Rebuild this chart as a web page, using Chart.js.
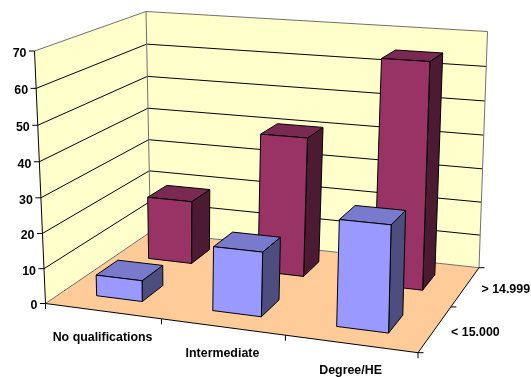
<!DOCTYPE html>
<html lang="en">
  <head>
    <meta charset="UTF-8" />
    <title>Qualifications by income</title>
    <script src="https://cdn.jsdelivr.net/npm/chart.js"></script>
    <style>
      body {
        margin: 0;
        background: #ffffff;
      }
      .chart-box {
        width: 531px;
        height: 377px;
      }
    </style>
  </head>
  <body>
    <div class="chart-box"><canvas id="chartIncome"></canvas></div>

    <script>
      const categories = ["No qualifications", "Intermediate", "Degree/HE"];
      const depthLabels = ["< 15.000", "> 14.999"];
      const lowIncome = [6, 18, 29];
      const highIncome = [19, 41, 65];
      const yMax = 70;
      const yStep = 10;

      // box corners on screen: floor and ceiling, order front-left, front-right, back-right, back-left
      const floorQuad = [[45.5, 303.5], [418, 352.7], [479, 267.7], [150.5, 232]];
      const ceilQuad = [[34.5, 51], [423, 75], [487.5, 31.5], [146, 11.5]];
      const heightBend = 0.042;

      const palette = {
        low: { front: "#9999ff", top: "#7a7acc", side: "#4d4d80" },
        high: { front: "#993366", top: "#7a2952", side: "#4d1a33" },
      };

      // unit square -> quad
      function quadMap(q) {
        const [p0, p1, p2, p3] = q;
        const dx1 = p1[0] - p2[0], dx2 = p3[0] - p2[0], sx = p0[0] - p1[0] + p2[0] - p3[0];
        const dy1 = p1[1] - p2[1], dy2 = p3[1] - p2[1], sy = p0[1] - p1[1] + p2[1] - p3[1];
        const den = dx1 * dy2 - dx2 * dy1;
        const g = (sx * dy2 - dx2 * sy) / den;
        const h = (dx1 * sy - sx * dy1) / den;
        const a = p1[0] - p0[0] + g * p1[0], b = p3[0] - p0[0] + h * p3[0];
        const d = p1[1] - p0[1] + g * p1[1], e = p3[1] - p0[1] + h * p3[1];
        return (u, v) => {
          const w = 1 + g * u + h * v;
          return [(p0[0] + a * u + b * v) / w, (p0[1] + d * u + e * v) / w];
        };
      }
      const floorMap = quadMap(floorQuad);
      const ceilMap = quadMap(ceilQuad);

      // u along categories, t up the value axis, v into the depth
      function project(u, t, v) {
        const f = t / (1 + heightBend * (1 - t));
        const a = floorMap(u, v);
        const b = ceilMap(u, v);
        return [a[0] + (b[0] - a[0]) * f, a[1] + (b[1] - a[1]) * f];
      }

      function poly(ctx, pts, fill, stroke) {
        ctx.beginPath();
        pts.forEach((p, i) => (i ? ctx.lineTo(p[0], p[1]) : ctx.moveTo(p[0], p[1])));
        ctx.closePath();
        if (fill) {
          ctx.fillStyle = fill;
          ctx.fill();
        }
        if (stroke) {
          ctx.strokeStyle = stroke;
          ctx.stroke();
        }
      }

      function seg(ctx, a, b, color) {
        ctx.beginPath();
        ctx.moveTo(a[0], a[1]);
        ctx.lineTo(b[0], b[1]);
        ctx.strokeStyle = color;
        ctx.stroke();
      }

      const box3d = {
        id: "box3d",
        beforeDatasetsDraw(chart) {
          const { ctx, chartArea: area, scales } = chart;
          const toU = (px) => (px - area.left) / (area.right - area.left);
          const toT = (px) => (area.bottom - px) / (area.bottom - area.top);

          ctx.save();
          ctx.lineWidth = 1;

          // walls and floor
          poly(ctx, [project(0, 0, 0), project(0, 0, 1), project(0, 1, 1), project(0, 1, 0)], "#ffffcc");
          poly(ctx, [project(0, 0, 1), project(1, 0, 1), project(1, 1, 1), project(0, 1, 1)], "#ffffcc");
          poly(ctx, [project(0, 0, 0), project(1, 0, 0), project(1, 0, 1), project(0, 0, 1)], "#ffcc99");

          // gridlines
          scales.y.ticks.forEach((tick) => {
            if (tick.value === 0 || tick.value === yMax) return;
            const t = toT(scales.y.getPixelForValue(tick.value));
            seg(ctx, project(0, t, 0), project(0, t, 1), "#000000");
            seg(ctx, project(0, t, 1), project(1, t, 1), "#000000");
          });

          // wall outline
          const grey = "#707070";
          seg(ctx, project(0, 1, 0), project(0, 1, 1), grey);
          seg(ctx, project(0, 1, 1), project(1, 1, 1), grey);
          seg(ctx, project(0, 1, 1), project(0, 0, 1), grey);
          seg(ctx, project(1, 1, 1), project(1, 0, 1), grey);
          seg(ctx, project(0, 0, 0), project(0, 0, 1), grey);
          seg(ctx, project(0, 0, 1), project(1, 0, 1), grey);

          // axis lines
          seg(ctx, project(0, 0, 0), project(0, 1, 0), "#000000");
          seg(ctx, project(0, 0, 0), project(1, 0, 0), "#000000");
          seg(ctx, project(1, 0, 0), project(1, 0, 1), "#000000");

          // bars, back row first
          const depthSpan = (scales.z.getPixelForTick(1) - scales.z.getPixelForTick(0)) * 0.4;
          chart.data.datasets
            .map((ds, i) => i)
            .sort((a, b) => chart.data.datasets[b].depth - chart.data.datasets[a].depth)
            .forEach((i) => {
              const ds = chart.data.datasets[i];
              const colors = palette[ds.tone];
              const zc = toU(scales.z.getPixelForValue(ds.depth));
              const dz = toU(area.left + depthSpan / 2);
              chart.getDatasetMeta(i).data.forEach((bar) => {
                const u0 = toU(bar.x - bar.width / 2);
                const u1 = toU(bar.x + bar.width / 2);
                const t0 = toT(bar.base);
                const t1 = toT(bar.y);
                const z0 = zc - dz;
                const z1 = zc + dz;
                poly(ctx, [project(u1, t0, z0), project(u1, t0, z1), project(u1, t1, z1), project(u1, t1, z0)], colors.side, "#000000");
                poly(ctx, [project(u0, t1, z0), project(u1, t1, z0), project(u1, t1, z1), project(u0, t1, z1)], colors.top, "#000000");
                poly(ctx, [project(u0, t0, z0), project(u1, t0, z0), project(u1, t1, z0), project(u0, t1, z0)], colors.front, "#000000");
              });
            });

          // ticks and labels
          ctx.font = "bold 12.4px 'Liberation Sans'";
          ctx.fillStyle = "#000000";
          ctx.textBaseline = "middle";

          ctx.textAlign = "right";
          scales.y.ticks.forEach((tick) => {
            const p = project(0, toT(scales.y.getPixelForValue(tick.value)), 0);
            seg(ctx, [p[0] - 5.5, p[1]], p, "#000000");
            ctx.fillStyle = "#000000";
            ctx.fillText(tick.label, p[0] - 8, p[1] + 2.5);
          });

          for (let i = 0; i <= categories.length; i++) {
            const p = project(i / categories.length, 0, 0);
            seg(ctx, p, [p[0], p[1] + 5.5], "#000000");
          }
          ctx.textAlign = "center";
          categories.forEach((name, i) => {
            const p = project(toU(scales.x.getPixelForValue(i)), 0, 0);
            ctx.fillStyle = "#000000";
            ctx.fillText(name, p[0], p[1] + 27);
          });

          for (let i = 0; i <= depthLabels.length; i++) {
            const p = project(1, 0, i / depthLabels.length);
            seg(ctx, p, [p[0] + 5.5, p[1]], "#000000");
          }
          ctx.textAlign = "left";
          depthLabels.forEach((name, i) => {
            const p = project(1, 0, toU(scales.z.getPixelForValue(i)));
            ctx.fillStyle = "#000000";
            ctx.fillText(name, p[0] + 16, p[1] + 3.5);
          });

          ctx.restore();
          return false; // the library's flat bars stay undrawn
        },
      };

      new Chart(document.getElementById("chartIncome"), {
        type: "bar",
        data: {
          labels: categories,
          datasets: [
            { label: depthLabels[0], data: lowIncome, depth: 0, tone: "low", grouped: false },
            { label: depthLabels[1], data: highIncome, depth: 1, tone: "high", grouped: false },
          ],
        },
        options: {
          responsive: true,
          maintainAspectRatio: false,
          animation: false,
          barPercentage: 0.4,
          categoryPercentage: 1,
          layout: {
            padding: { left: 45.5, right: 113, top: 51, bottom: 73.5 },
          },
          plugins: {
            legend: { display: false },
            tooltip: { enabled: false },
          },
          scales: {
            x: { display: false, offset: true },
            z: { type: "category", axis: "x", labels: depthLabels, display: false, offset: true },
            y: {
              display: false,
              min: 0,
              max: yMax,
              ticks: { stepSize: yStep },
            },
          },
        },
        plugins: [box3d],
      });
    </script>
  </body>
</html>
